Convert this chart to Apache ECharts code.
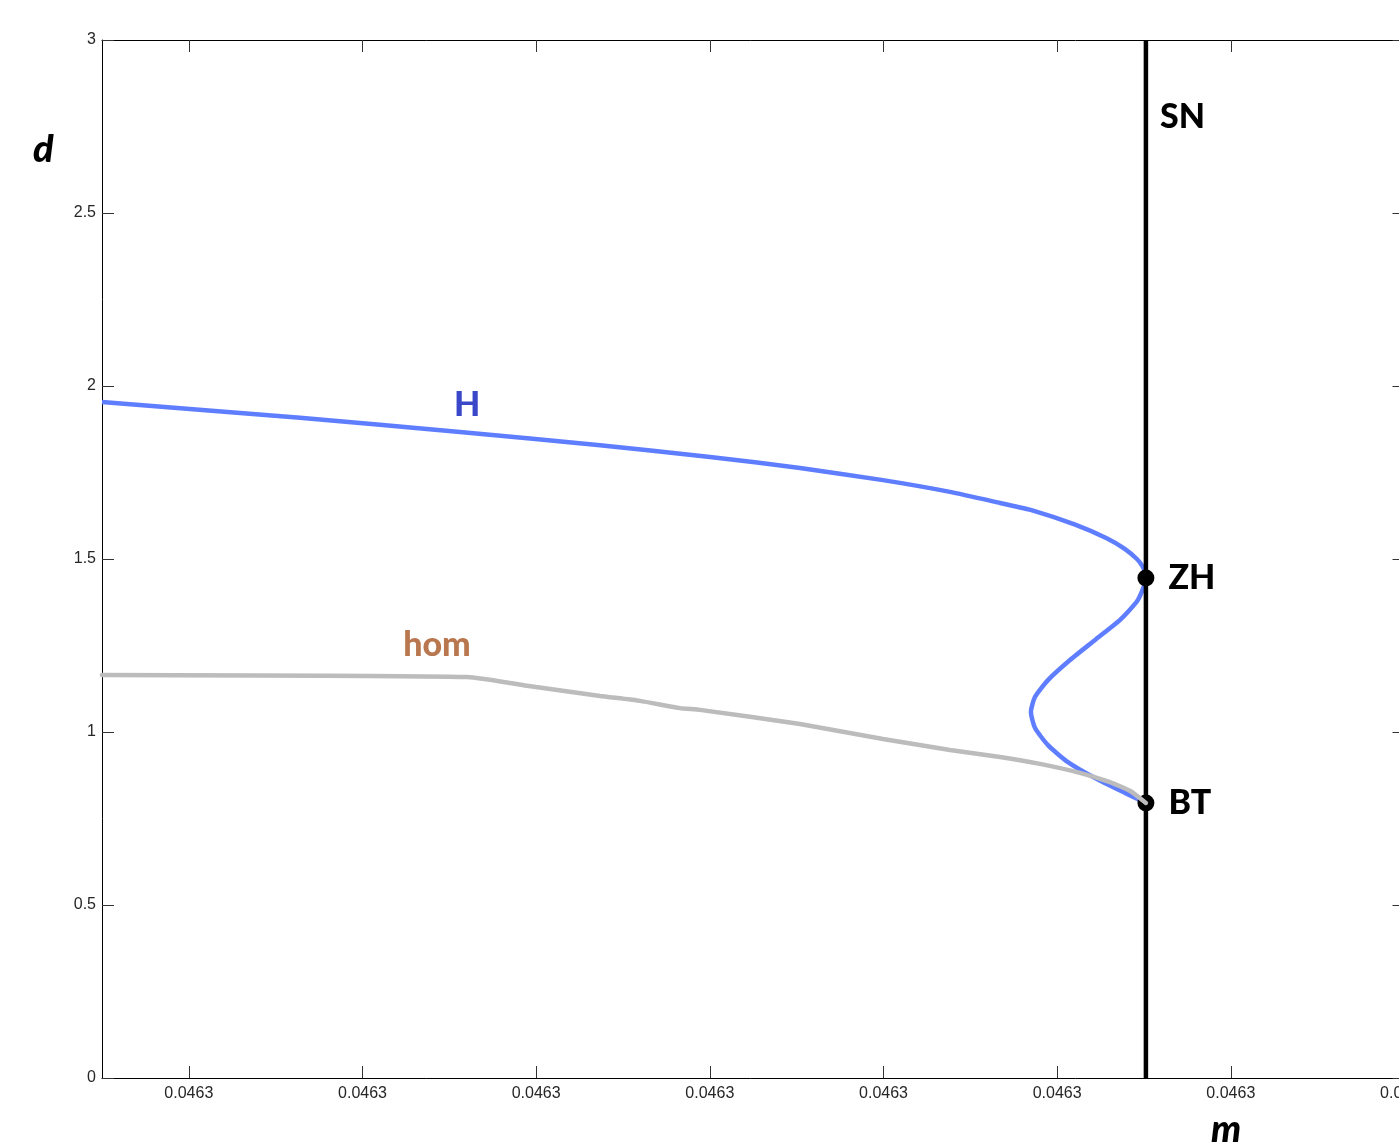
<!DOCTYPE html>
<html><head><meta charset="utf-8">
<script src="https://cdn.jsdelivr.net/npm/echarts@6/dist/echarts.min.js"></script>
<style>html,body{margin:0;padding:0;background:#fff}#c{width:1399px;height:1142px}</style>
</head><body><div id="c"></div>
<script>
// x axis in tick-spacing units (all ticks read "0.0463" in the original)
const xMin = 0, xMax = 7.5;
const xTickValues = [0.5, 1.5, 2.5, 3.5, 4.5, 5.5, 6.5, 7.5];
const xTickLabels = ['0.0463', '0.0463', '0.0463', '0.0463', '0.0463', '0.0463', '0.0463', '0.0463'];
const yMin = 0, yMax = 3, yInterval = 0.5;

// Hopf curve (H)
const hopfM = [0, 1.140, 2.061, 2.868, 3.501, 4.019, 4.497, 4.883, 5.171, 5.361, 5.600, 5.785, 5.887, 5.959, 5.990, 6.007, 6.011,
  5.965, 5.862, 5.718, 5.574, 5.447, 5.372, 5.349, 5.372, 5.447, 5.562, 5.718, 5.890, 6.011];
const hopfD = [1.954, 1.908, 1.867, 1.829, 1.795, 1.763, 1.728, 1.694, 1.662, 1.640, 1.600, 1.560, 1.530, 1.500, 1.480, 1.460, 1.445,
  1.382, 1.324, 1.266, 1.208, 1.150, 1.101, 1.058, 1.012, 0.962, 0.913, 0.867, 0.824, 0.795];

// Homoclinic curve (hom)
const homM = [0, 2.102, 2.499, 2.868, 3.098, 3.328, 3.443, 4.019, 4.497, 4.883, 5.171, 5.401, 5.631, 5.804, 5.919, 6.011];
const homD = [1.165, 1.159, 1.130, 1.104, 1.090, 1.069, 1.064, 1.023, 0.980, 0.948, 0.928, 0.908, 0.882, 0.855, 0.830, 0.795];

// Saddle-node line (SN)
const snM = [6.011, 6.011];
const snD = [0, 3];

// Special points
const pointNames = ['ZH', 'BT'];
const pointM = [6.011, 6.011];
const pointD = [1.445, 0.795];

// Curve name labels
const curveLabelNames = ['H', 'hom'];
const curveLabelColors = ['#3a47c8', '#b9774f'];
const curveLabelM = [2.102, 1.929];
const curveLabelD = [1.945, 1.251];
const snLabelM = 6.011, snLabelD = 2.777;

const zip = (a, b) => a.map((v, i) => [v, b[i]]);
const boldFont = {fontFamily: 'Lato', fontWeight: 900, fontSize: 34};

const chart = echarts.init(document.getElementById('c'), null, {renderer: 'canvas'});
const tickStyle = {color: '#333', width: 1};
chart.setOption({
  animation: false,
  backgroundColor: '#fff',
  grid: {left: 102, top: 40, right: -5.5, bottom: 64, outerBoundsMode: 'none', containLabel: false},
  xAxis: [{
    type: 'value', min: xMin, max: xMax, position: 'bottom',
    axisLine: {show: true, onZero: false, lineStyle: {color: '#000', width: 1}},
    axisTick: {show: true, inside: true, length: 12, customValues: xTickValues, lineStyle: tickStyle},
    axisLabel: {show: true, customValues: xTickValues, margin: 8,
      formatter: (v) => xTickLabels[xTickValues.indexOf(v)] || '',
      fontFamily: 'Liberation Sans', fontSize: 16, color: '#262626'},
    splitLine: {show: false}
  }, {
    type: 'value', min: xMin, max: xMax, position: 'top',
    axisLine: {show: true, onZero: false, lineStyle: {color: '#000', width: 1}},
    axisTick: {show: true, inside: true, length: 12, customValues: xTickValues, lineStyle: tickStyle},
    axisLabel: {show: false}, splitLine: {show: false}
  }],
  yAxis: [{
    type: 'value', min: yMin, max: yMax, interval: yInterval, position: 'left',
    axisLine: {show: true, onZero: false, lineStyle: {color: '#000', width: 1}},
    axisTick: {show: true, inside: true, length: 12, lineStyle: tickStyle},
    axisLabel: {show: true, margin: 6, fontFamily: 'Liberation Sans', fontSize: 16, color: '#262626'},
    splitLine: {show: false}
  }, {
    type: 'value', min: yMin, max: yMax, interval: yInterval, position: 'right',
    axisLine: {show: true, onZero: false, lineStyle: {color: '#000', width: 1}},
    axisTick: {show: true, inside: true, length: 12, lineStyle: tickStyle},
    axisLabel: {show: false}, splitLine: {show: false}
  }],
  graphic: [
    {type: 'text', left: 33, top: 131, style: {text: 'd', font: 'italic 900 38px Lato', fill: '#000'}},
    {type: 'text', left: 1211, top: 1111, style: {text: 'm', font: 'italic 900 38px Lato', fill: '#000'}}
  ],
  series: [
    {
      type: 'line', name: 'H', data: zip(hopfM, hopfD), showSymbol: false, symbol: 'none', smooth: 0.2,
      lineStyle: {color: '#5f7eff', width: 4.5}, z: 2, clip: false
    },
    {
      type: 'line', name: 'SN', data: zip(snM, snD), showSymbol: false, symbol: 'none',
      lineStyle: {color: '#000', width: 4.5}, z: 3, clip: false
    },
    {
      type: 'scatter', name: 'points', data: zip(pointM, pointD), symbol: 'circle', symbolSize: 17,
      itemStyle: {color: '#000', opacity: 1}, z: 4,
      label: {show: true, position: 'right', distance: 14, color: '#000', ...boldFont,
        formatter: (p) => pointNames[p.dataIndex]}
    },
    {
      type: 'line', name: 'hom', data: zip(homM, homD), showSymbol: false, symbol: 'none', smooth: 0.15,
      lineStyle: {color: '#bcbcbc', width: 4.5, cap: 'round'}, z: 5, clip: false
    },
    {
      type: 'scatter', name: 'curveLabels', symbolSize: 0, z: 6,
      data: zip(curveLabelM, curveLabelD).map((v, i) => ({value: v, label: {color: curveLabelColors[i]}})),
      label: {show: true, position: 'inside', ...boldFont,
        formatter: (p) => curveLabelNames[p.dataIndex]},
      itemStyle: {color: '#000', opacity: 1}
    },
    {
      type: 'scatter', name: 'snLabel', data: [[snLabelM, snLabelD]], symbolSize: 0, z: 6,
      label: {show: true, position: 'right', distance: 14, color: '#000', ...boldFont, formatter: 'SN'},
      itemStyle: {color: '#000', opacity: 1}
    }
  ]
});
</script></body></html>
